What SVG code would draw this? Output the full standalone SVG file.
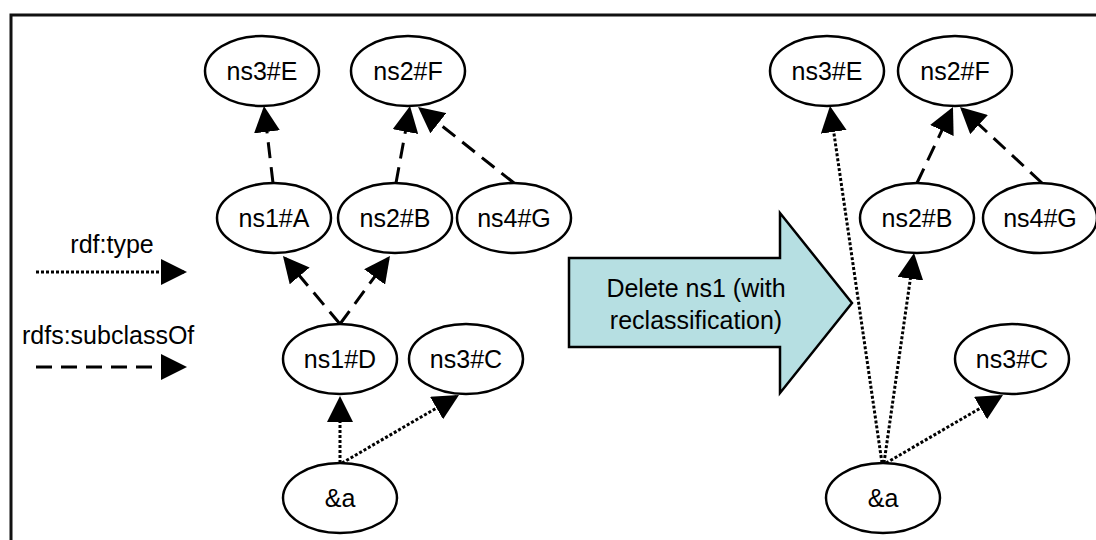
<svg xmlns="http://www.w3.org/2000/svg" width="1096" height="540" viewBox="0 0 1096 540">
<style>
.n ellipse{fill:#fff;stroke:#000;stroke-width:2.5}
text{font-family:"Liberation Sans",Arial,sans-serif;font-size:25px;fill:#000}
.n text{text-anchor:middle}
.dash{fill:none;stroke:#000;stroke-width:3;stroke-dasharray:16 9}
.dot{fill:none;stroke:#000;stroke-width:3;stroke-dasharray:3 2}
</style>
<defs>
<marker id="ah" markerUnits="userSpaceOnUse" markerWidth="26" markerHeight="26" viewBox="0 0 26 26" refX="23" refY="13" orient="auto">
<path d="M0,0 L26,13 L0,26 Z" fill="#000"/>
</marker>
</defs>
<rect width="1096" height="540" fill="#fff"/>
<path d="M11,540 L11,15 L1096,15" fill="none" stroke="#111" stroke-width="3"/>

<g id="legend">
<text x="112" y="253" text-anchor="middle">rdf:type</text>
<line class="dot" x1="36" y1="272" x2="184" y2="272" marker-end="url(#ah)"/>
<text x="22" y="344">rdfs:subclassOf</text>
<line class="dash" x1="36" y1="367" x2="184" y2="367" marker-end="url(#ah)"/>
</g>

<g id="transform-arrow">
<polygon points="569,258 780,258 780,213 852,303 780,393 780,347 569,347" fill="#b6dfe2" stroke="#000" stroke-width="2.5"/>
<text x="696" y="297" text-anchor="middle">Delete ns1 (with</text>
<text x="696" y="329" text-anchor="middle">reclassification)</text>
</g>

<g id="connectors">
<line class="dash" x1="273" y1="183" x2="264.3" y2="109" marker-end="url(#ah)"/>
<line class="dash" x1="396" y1="183" x2="409.5" y2="109" marker-end="url(#ah)"/>
<line class="dash" x1="514" y1="183" x2="420.4" y2="108.9" marker-end="url(#ah)"/>
<line class="dash" x1="340" y1="324" x2="284.9" y2="258.3" marker-end="url(#ah)"/>
<line class="dash" x1="340" y1="324" x2="388.2" y2="258.4" marker-end="url(#ah)"/>
<line class="dot" x1="340" y1="463" x2="340" y2="399" marker-end="url(#ah)"/>
<line class="dot" x1="342" y1="463" x2="456.4" y2="396.5" marker-end="url(#ah)"/>
<line class="dot" x1="882" y1="463" x2="830.4" y2="109" marker-end="url(#ah)"/>
<line class="dot" x1="884" y1="463" x2="913.6" y2="256" marker-end="url(#ah)"/>
<line class="dot" x1="886" y1="463" x2="1000.4" y2="396.5" marker-end="url(#ah)"/>
<line class="dash" x1="917" y1="183" x2="951.7" y2="109.7" marker-end="url(#ah)"/>
<line class="dash" x1="1042" y1="183" x2="962.2" y2="109" marker-end="url(#ah)"/>
</g>

<g id="L-ns3E" class="n"><ellipse cx="262" cy="71" rx="57" ry="35"/><text x="262" y="80">ns3#E</text></g>
<g id="L-ns2F" class="n"><ellipse cx="408" cy="71" rx="57" ry="35"/><text x="408" y="80">ns2#F</text></g>
<g id="L-ns1A" class="n"><ellipse cx="274" cy="218" rx="57" ry="35"/><text x="274" y="227">ns1#A</text></g>
<g id="L-ns2B" class="n"><ellipse cx="395" cy="218" rx="57" ry="35"/><text x="395" y="227">ns2#B</text></g>
<g id="L-ns4G" class="n"><ellipse cx="514" cy="218" rx="57" ry="35"/><text x="514" y="227">ns4#G</text></g>
<g id="L-ns1D" class="n"><ellipse cx="340" cy="359" rx="57" ry="35"/><text x="340" y="368">ns1#D</text></g>
<g id="L-ns3C" class="n"><ellipse cx="466" cy="359" rx="57" ry="35"/><text x="466" y="368">ns3#C</text></g>
<g id="L-a" class="n"><ellipse cx="340" cy="498" rx="57" ry="35"/><text x="340" y="507">&amp;a</text></g>

<g id="R-ns3E" class="n"><ellipse cx="827" cy="71" rx="57" ry="35"/><text x="827" y="80">ns3#E</text></g>
<g id="R-ns2F" class="n"><ellipse cx="955" cy="71" rx="57" ry="35"/><text x="955" y="80">ns2#F</text></g>
<g id="R-ns2B" class="n"><ellipse cx="917" cy="218" rx="57" ry="35"/><text x="917" y="227">ns2#B</text></g>
<g id="R-ns4G" class="n"><ellipse cx="1040" cy="218" rx="57" ry="35"/><text x="1040" y="227">ns4#G</text></g>
<g id="R-ns3C" class="n"><ellipse cx="1012" cy="359" rx="57" ry="35"/><text x="1012" y="368">ns3#C</text></g>
<g id="R-a" class="n"><ellipse cx="883" cy="498" rx="57" ry="35"/><text x="883" y="507">&amp;a</text></g>
</svg>
